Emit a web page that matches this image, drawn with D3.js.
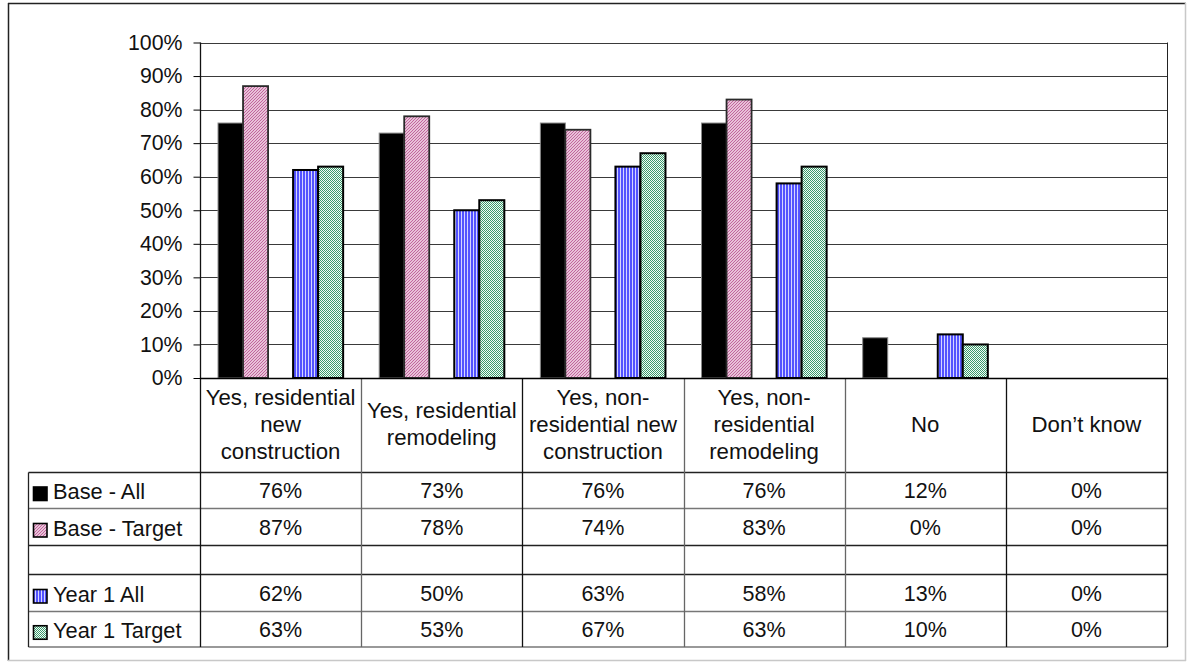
<!DOCTYPE html>
<html>
<head>
<meta charset="utf-8">
<script src="https://cdn.jsdelivr.net/npm/d3@7"></script>
<style>
  html, body { margin: 0; padding: 0; background: #fff; }
  svg { display: block; font-family: Arial, "Liberation Sans", sans-serif; }
</style>
</head>
<body>
<svg id="chart" width="1187" height="664"></svg>
<script>
// Survey categories (line breaks mark how the table header wraps)
const categories = [
  "Yes, residential\nnew\nconstruction",
  "Yes, residential\nremodeling",
  "Yes, non-\nresidential new\nconstruction",
  "Yes, non-\nresidential\nremodeling",
  "No",
  "Don\u2019t know"
];

// Series names; the empty entry is a spacer series that keeps a gap between groups
const seriesNames = ["Base - All", "Base - Target", "", "Year 1 All", "Year 1 Target"];

// Percent values per series, in category order
const baseAll     = [76, 73, 76, 76, 12, 0];
const baseTarget  = [87, 78, 74, 83, 0, 0];
const spacer      = [null, null, null, null, null, null];
const year1All    = [62, 50, 63, 58, 13, 0];
const year1Target = [63, 53, 67, 63, 10, 0];

const yTicks = [0, 10, 20, 30, 40, 50, 60, 70, 80, 90, 100];

const seriesValues = [baseAll, baseTarget, spacer, year1All, year1Target];

const svg = d3.select("#chart");
const defs = svg.append("defs");

// Fill patterns
const pPink = defs.append("pattern").attr("id", "pat-pink")
  .attr("patternUnits", "userSpaceOnUse").attr("width", 3).attr("height", 3);
pPink.append("rect").attr("width", 3).attr("height", 3).attr("fill", "#fbeef5");
pPink.append("path").attr("d", "M-1,1 L1,-1 M0,3 L3,0 M2,4 L4,2")
  .attr("stroke", "#c0609a").attr("stroke-width", 1.2);

const pBlue = defs.append("pattern").attr("id", "pat-blue")
  .attr("patternUnits", "userSpaceOnUse").attr("width", 3).attr("height", 3);
pBlue.append("rect").attr("width", 3).attr("height", 3).attr("fill", "#d4d4ff");
pBlue.append("rect").attr("width", 2).attr("height", 3).attr("fill", "#5252ff");

const pGreen = defs.append("pattern").attr("id", "pat-green")
  .attr("patternUnits", "userSpaceOnUse").attr("width", 2).attr("height", 2);
pGreen.append("rect").attr("width", 2).attr("height", 2).attr("fill", "#f4fbf7");
pGreen.append("rect").attr("width", 1).attr("height", 1).attr("fill", "#3a9a6c");
pGreen.append("rect").attr("x", 1).attr("y", 1).attr("width", 1).attr("height", 1).attr("fill", "#3a9a6c");

const styles = [
  { fill: "#000", stroke: "#8a8a8a", sw: 1 },
  { fill: "url(#pat-pink)", stroke: "#2a2a2a", sw: 1.8 },
  null,
  { fill: "url(#pat-blue)", stroke: "#000", sw: 2 },
  { fill: "url(#pat-green)", stroke: "#000", sw: 2 }
];

// Chart frame
svg.append("line").attr("x1", 8).attr("x2", 1186).attr("y1", 3.5).attr("y2", 3.5).attr("stroke", "#222").attr("stroke-width", 1.5);
svg.append("line").attr("x1", 8.5).attr("x2", 8.5).attr("y1", 3).attr("y2", 661).attr("stroke", "#222").attr("stroke-width", 1.5);
svg.append("line").attr("x1", 1185.5).attr("x2", 1185.5).attr("y1", 3).attr("y2", 661).attr("stroke", "#c8c8c8").attr("stroke-width", 1.5);
svg.append("line").attr("x1", 8).attr("x2", 1186).attr("y1", 660.5).attr("y2", 660.5).attr("stroke", "#c8c8c8").attr("stroke-width", 1.5);

// Scales
const plotL = 200, plotR = 1167, plotT = 42.5, plotB = 378;
const x = d3.scaleBand().domain(categories).range([plotL, plotR]);
const xs = d3.scaleBand().domain(d3.range(seriesNames.length)).range([0, x.bandwidth()]).paddingInner(0).paddingOuter(0.72);
const y = d3.scaleLinear().domain([0, 100]).range([plotB, plotT]);

// Gridlines
svg.append("g").selectAll("line").data(yTicks.filter(t => t > 0)).join("line")
  .attr("x1", plotL).attr("x2", plotR)
  .attr("y1", d => Math.round(y(d)) + 0.5).attr("y2", d => Math.round(y(d)) + 0.5)
  .attr("stroke", "#3a3a3a").attr("stroke-width", 1);
svg.append("line").attr("x1", plotR + 0.5).attr("x2", plotR + 0.5).attr("y1", plotT).attr("y2", plotB)
  .attr("stroke", "#222");

// Y axis
const yAxis = d3.axisLeft(y).tickValues(yTicks).tickFormat(d => d + "%").tickSize(7).tickPadding(11);
const gy = svg.append("g").attr("transform", `translate(${plotL + 0.5},0)`).call(yAxis);
gy.select(".domain").remove();
gy.selectAll(".tick line").attr("stroke", "#000");
gy.selectAll(".tick text").attr("font-size", "21.3px").attr("fill", "#111")
  .attr("font-family", "Arial, 'Liberation Sans', sans-serif");

// Bars
const barG = svg.append("g");
seriesValues.forEach((vals, si) => {
  if (!styles[si]) return;
  const st = styles[si];
  barG.append("g").selectAll("rect")
    .data(vals.map((v, ci) => ({ v, c: categories[ci] })).filter(d => d.v > 0))
    .join("rect")
    .attr("x", d => x(d.c) + xs(si))
    .attr("y", d => y(d.v))
    .attr("width", xs.bandwidth())
    .attr("height", d => y(0) - y(d.v))
    .attr("fill", st.fill)
    .attr("stroke", st.stroke)
    .attr("stroke-width", st.sw);
});

// Data table below the plot
const fontSize = 21.5;
const headFont = 22.2;
const rowHeights = [36, 37, 29, 37, 35.5];
const tableTop = 472.5, tableLeft = 28.5;
const rowTops = [];
let acc = tableTop;
rowHeights.forEach(h => { rowTops.push(acc); acc += h; });
const tableBottom = acc;

const tbl = svg.append("g");
// horizontal lines
tbl.selectAll("line.h").data(rowTops.concat([tableBottom])).join("line")
  .attr("x1", tableLeft).attr("x2", plotR + 0.5)
  .attr("y1", d => d).attr("y2", d => d)
  .attr("stroke", (d, i) => (i === 1 || i === 4 || i === 5) ? "#777" : "#222")
  .attr("stroke-width", 1.3);
// left edge of legend column
tbl.append("line").attr("x1", tableLeft).attr("x2", tableLeft).attr("y1", tableTop).attr("y2", tableBottom)
  .attr("stroke", "#222").attr("stroke-width", 1.3);
// column separators
const colEdges = categories.map(c => x(c)).concat([plotR]);
tbl.selectAll("line.v").data(colEdges).join("line")
  .attr("x1", d => Math.round(d) + 0.5).attr("x2", d => Math.round(d) + 0.5)
  .attr("y1", (d, i) => i === 0 ? plotT : plotB).attr("y2", tableBottom)
  .attr("stroke", (d, i) => (i === 1 || i === 3 || i === 4) ? "#666" : "#111")
  .attr("stroke-width", 1.3);
// 0% baseline
tbl.append("line").attr("x1", plotL).attr("x2", plotR).attr("y1", plotB + 0.5).attr("y2", plotB + 0.5)
  .attr("stroke", "#000").attr("stroke-width", 1.3);

// category header text
const headMid = 431.7, lineStep = 27;
categories.forEach(c => {
  const lines = c.split("\n");
  const t = tbl.append("text").attr("text-anchor", "middle").attr("font-size", headFont + "px").attr("fill", "#111");
  lines.forEach((ln, i) => {
    t.append("tspan").attr("x", x(c) + x.bandwidth() / 2)
      .attr("y", headMid + (i - (lines.length - 1) / 2) * lineStep)
      .text(ln);
  });
});

// value rows with legend keys
seriesNames.forEach((name, si) => {
  const top = rowTops[si], h = rowHeights[si];
  const base = top + h / 2 + 7.7;
  if (!styles[si]) return;
  const st = styles[si];
  tbl.append("rect").attr("x", 33.5).attr("y", top + h / 2 - 3.5).attr("width", 13.5).attr("height", 13.5)
    .attr("fill", st.fill).attr("stroke", "#000").attr("stroke-width", 1.6);
  tbl.append("text").attr("x", 53).attr("y", base + 0.8).attr("font-size", "21.8px").attr("fill", "#111").text(name);
  seriesValues[si].forEach((v, ci) => {
    tbl.append("text").attr("x", x(categories[ci]) + x.bandwidth() / 2).attr("y", base)
      .attr("text-anchor", "middle").attr("font-size", fontSize + "px").attr("fill", "#111")
      .text(v + "%");
  });
});
</script>
</body>
</html>
